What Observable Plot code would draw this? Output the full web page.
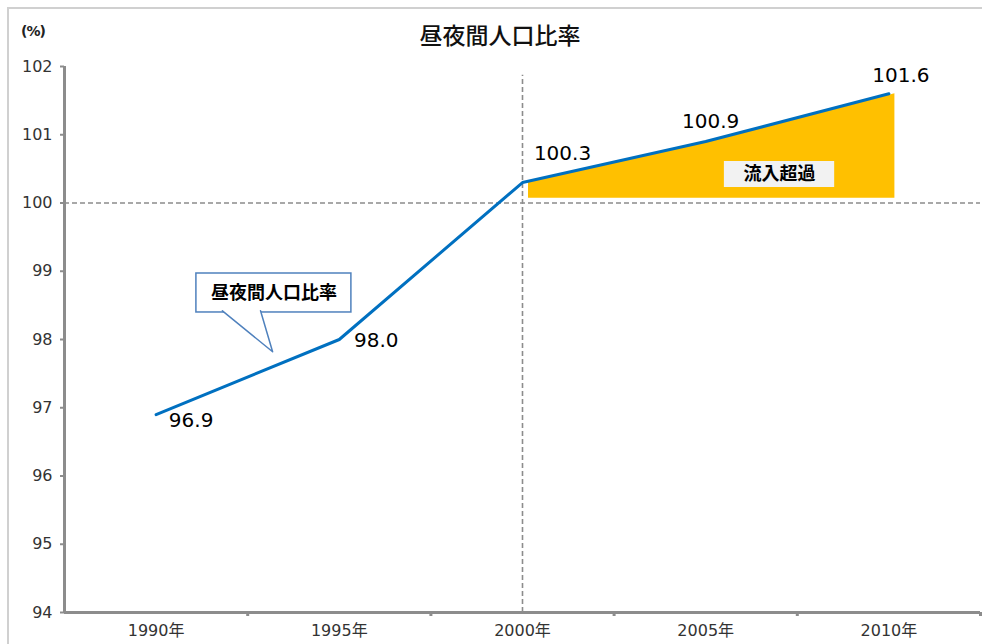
<!DOCTYPE html>
<html>
<head>
<meta charset="utf-8">
<script src="https://cdn.jsdelivr.net/npm/d3@7"></script>
<script src="https://cdn.jsdelivr.net/npm/@observablehq/plot@0.6"></script>
<style>
  html, body { margin: 0; padding: 0; background: white; }
  #wrap { position: relative; width: 982px; height: 644px; overflow: hidden; background: white; }
  #frame { position: absolute; left: 7px; top: 7px; width: 1000px; height: 700px;
           border-top: 2px solid #d0d0d0; border-left: 2px solid #d0d0d0; box-sizing: border-box; }
  #chart { position: absolute; left: 0; top: 0; }
  #chart svg { background: transparent !important; }
  #title { position: absolute; left: 0; width: 1000px; top: 17px; text-align: center;
           font-family: "Noto Sans CJK JP", sans-serif; font-size: 23px; font-weight: 500; color: #111; }
  #unit { position: absolute; left: 21px; top: 23px; font-family: "DejaVu Sans", sans-serif;
          font-size: 14px; font-weight: 700; color: #222; letter-spacing: -1px; }
</style>
</head>
<body>
<div id="wrap">
  <div id="frame"></div>
  <div id="chart"></div>
  <div id="title">昼夜間人口比率</div>
  <div id="unit">(%)</div>
</div>
<script>
// ---- data ----
const years = [1990, 1995, 2000, 2005, 2010];
const ratio = [96.9, 98.0, 100.3, 100.9, 101.6];
const yTicks = [94, 95, 96, 97, 98, 99, 100, 101, 102];
const xTickLabels = ["1990年", "1995年", "2000年", "2005年", "2010年"];
const seriesName = "昼夜間人口比率";
const inflowLabel = "流入超過";
const baseline = 100;
const dividerYear = 2000;

// ---- layout (styles / annotation placement) ----
const blue = "#0070c0";
const axisGray = "#8c8c8c";
const labelOffsets = [[35, 6], [37, 1], [40, -29], [5, -20], [12, -18]];
const numFont = "'DejaVu Sans', 'Noto Sans CJK JP', sans-serif";
const jpFont = "'Noto Sans CJK JP', sans-serif";

const rows = years.map((y, i) => ({year: y, value: ratio[i], label: ratio[i].toFixed(1)}));
const inflow = rows.filter(d => d.year >= dividerYear);
const boundaries = years.map(y => y + 2.5);

// callout annotation (data coordinates)
const callBox = {x1: 1991.10, x2: 1995.33, y1: 98.396, y2: 98.967};
const callPointer = [
  {x: 1991.81, y: 98.42},
  {x: 1993.18, y: 97.82},
  {x: 1992.85, y: 98.42}
];
const inflowBox = {x1: 2005.51, x2: 2008.52, y1: 100.227, y2: 100.608};

const labelMarks = rows.map((d, i) => Plot.text([d], {
  x: "year", y: "value", text: "label",
  dx: labelOffsets[i][0], dy: labelOffsets[i][1],
  fontSize: 20, fill: "#000", fontFamily: numFont
}));

const plot = Plot.plot({
  width: 982,
  height: 644,
  marginLeft: 64,
  marginRight: 2,
  marginTop: 66,
  marginBottom: 32,
  style: {background: "transparent", overflow: "visible"},
  x: {domain: [years[0] - 2.5, years[years.length - 1] + 2.5]},
  y: {domain: [yTicks[0], yTicks[yTicks.length - 1]]},
  marks: [
    // inflow area
    Plot.areaY(inflow, {x: "year", y1: baseline + 0.07, y2: "value", fill: "#ffc000", dx: 6, curve: "linear"}),
    // dashed reference lines
    Plot.ruleY([baseline], {stroke: axisGray, strokeWidth: 1.6, strokeDasharray: "5,3"}),
    Plot.ruleX([dividerYear], {y1: yTicks[0], y2: 101.87, stroke: axisGray, strokeWidth: 1.6, strokeDasharray: "5,3"}),
    // axes
    Plot.axisY({ticks: yTicks, tickSize: 4, tickPadding: 8, fontSize: 16, fill: "#333", stroke: axisGray, strokeWidth: 2, fontFamily: numFont, label: null}),
    Plot.axisX({ticks: boundaries, tickSize: 4, tickFormat: () => "", stroke: axisGray, strokeWidth: 3, label: null}),
    Plot.axisX({ticks: years, tickSize: 0, tickPadding: 12, tickFormat: d => xTickLabels[years.indexOf(d)], fontSize: 16, fill: "#333", fontFamily: numFont, label: null}),
    Plot.ruleX([years[0] - 2.5], {stroke: axisGray, strokeWidth: 3}),
    Plot.ruleY([yTicks[0]], {stroke: axisGray, strokeWidth: 3}),
    // series line
    Plot.line(rows, {x: "year", y: "value", stroke: blue, strokeWidth: 3}),
    // value labels
    ...labelMarks,
    // callout box
    Plot.rect([callBox], {x1: "x1", x2: "x2", y1: "y1", y2: "y2", fill: "white", stroke: "#4f81bd", strokeWidth: 1.5}),
    Plot.line(callPointer, {x: "x", y: "y", fill: "white", stroke: "#4f81bd", strokeWidth: 1.5}),
    Plot.text([seriesName], {x: (callBox.x1 + callBox.x2) / 2, y: (callBox.y1 + callBox.y2) / 2, text: d => d, fontSize: 18, fontWeight: 700, fill: "#000", fontFamily: jpFont}),
    // inflow label box
    Plot.rect([inflowBox], {x1: "x1", x2: "x2", y1: "y1", y2: "y2", fill: "#f2f2f2"}),
    Plot.text([inflowLabel], {x: (inflowBox.x1 + inflowBox.x2) / 2, y: (inflowBox.y1 + inflowBox.y2) / 2, text: d => d, fontSize: 18, fontWeight: 700, fill: "#000", fontFamily: jpFont})
  ]
});
document.getElementById("chart").appendChild(plot);
</script>
</body>
</html>
